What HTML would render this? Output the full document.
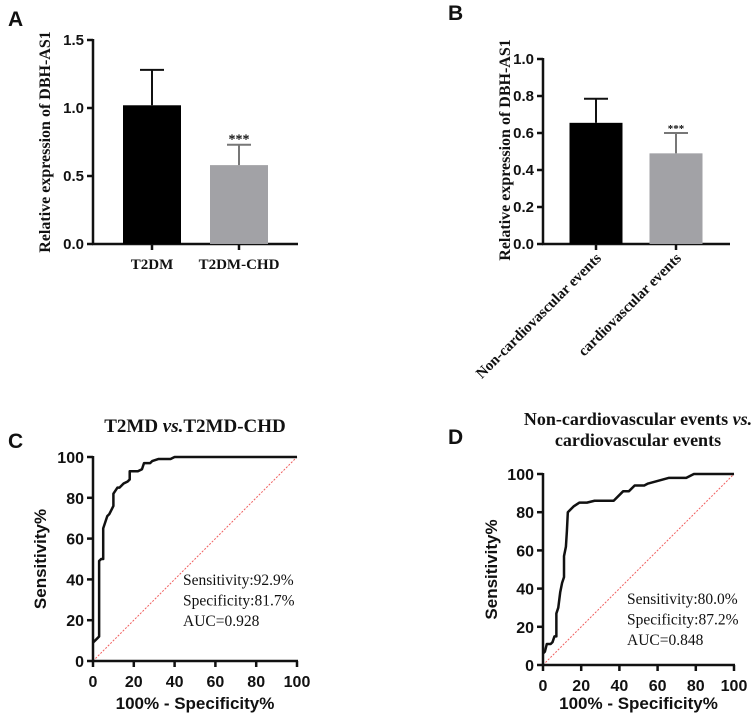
<!DOCTYPE html>
<html><head><meta charset="utf-8"><style>
html,body{margin:0;padding:0;background:#fff}
svg{display:block}
.tick{font-family:"Liberation Sans",sans-serif;font-weight:bold;font-size:15px;fill:#111}
.ser{font-family:"Liberation Serif",serif;font-weight:bold;fill:#111}
.lab{font-family:"Liberation Sans",sans-serif;font-weight:bold;fill:#111}
</style></head><body>
<svg id="s" width="755" height="716" viewBox="0 0 755 716" xmlns="http://www.w3.org/2000/svg">
<text x="8" y="26" class="lab" font-size="21">A</text>
<text x="448" y="20" class="lab" font-size="21">B</text>
<text x="8" y="448" class="lab" font-size="21">C</text>
<text x="448" y="444" class="lab" font-size="21">D</text>
<g id="g"></g>
</svg>
<script>
const aCats=["T2DM","T2DM-CHD"], aVals=[1.02,0.58], aErr=[1.28,0.73], aTicks=[0,0.5,1.0,1.5];
const bCats=["Non-cardiovascular events","cardiovascular events"], bVals=[0.655,0.49], bErr=[0.785,0.60], bTicks=[0,0.2,0.4,0.6,0.8,1.0];
const barColors=["#000000","#a2a2a6"];
const cX=[0,2,3,3,4,5,5,6,7,8,9,10,10,12,13,15,17,18,18,22,24,25,28,29,32,38,40,100];
const cY=[9,11,12,49,50,50,65,68,71,72,74,76,82,85,85,87,88,89,93,93,94,97,97,98,99,99,100,100];
const dX=[0,1,2,4,5,6,7,7,8,9,10,11,11,12,12.5,13,16,19,23,27,37,42,45,48,53,55,66,75,79,100];
const dY=[6,7,11,11,12,15,15,27,30,38,43,46,57,62,70,80,83,85,85,86,86,91,91,94,94,95,98,98,100,100];
const rocTicks=[0,20,40,60,80,100];
const NS="http://www.w3.org/2000/svg", G=document.getElementById('g');
function el(t,a,txt){const e=document.createElementNS(NS,t);for(const k in a)e.setAttribute(k,a[k]);if(txt!==undefined)e.textContent=txt;G.appendChild(e);return e;}
function line(x1,y1,x2,y2,w,c){return el('line',{x1,y1,x2,y2,stroke:c||'#111','stroke-width':w||2.5});}

function barChart(p,cats,vals,errs,ticks,rot){
  const ys=v=>p.y0-(v/p.max)*(p.y0-p.y1);
  let e=line(p.ax,p.y1-1,p.ax,p.y0+1);
  
  e=line(p.ax-1,p.y0,p.ax2,p.y0);
  
  ticks.forEach(t=>{line(p.ax-6,ys(t),p.ax,ys(t));
    e=el('text',{x:p.ax-9,y:ys(t)+5,'text-anchor':'end',class:'tick'},t.toFixed(1));
    });
  cats.forEach((c,i)=>{
    const cx=p.cx[i], w=p.bw;
    e=el('rect',{x:cx-w/2,y:ys(vals[i]),width:w,height:p.y0-ys(vals[i]),fill:barColors[i]});
    
    line(cx,ys(vals[i]),cx,ys(errs[i]),2,barColors[i]==='#000000'?'#111':'#777');
    line(cx-12,ys(errs[i]),cx+12,ys(errs[i]),2,barColors[i]==='#000000'?'#111':'#777');
    line(cx,p.y0,cx,p.y0+6);
    if(i===1){e=el('text',{x:cx,y:ys(errs[i])-1,'text-anchor':'middle',class:'ser','font-size':p.starSize},'***');
      }
    if(rot){e=el('text',{x:cx+6,y:p.y0+15,'text-anchor':'end',class:'ser','font-size':15,transform:`rotate(-45 ${cx+6} ${p.y0+15})`},c);}
    else{e=el('text',{x:cx,y:p.y0+25,'text-anchor':'middle',class:'ser','font-size':15},c);}
    
  });
  e=el('text',{x:p.tx,y:p.ty,'text-anchor':'middle',class:'ser','font-size':p.tfs,transform:`rotate(-90 ${p.tx} ${p.ty})`},'Relative expression of DBH-AS1');
  
}
barChart({id:'a',ax:93,ax2:298,y0:244,y1:40,max:1.5,cx:[152,239],bw:58,tx:50,ty:142,tfs:16,starSize:14},aCats,aVals,aErr,aTicks,false);
barChart({id:'b',ax:543,ax2:730,y0:244,y1:59,max:1.0,cx:[596,676],bw:53,tx:510,ty:150,tfs:16,starSize:11},bCats,bVals,bErr,bTicks,true);

function roc(p,xs,ysA,stats){
  const sx=v=>p.x0+v/100*(p.x1-p.x0), sy=v=>p.y0-v/100*(p.y0-p.y1);
  let e=el('line',{x1:sx(0),y1:sy(0),x2:sx(100),y2:sy(100),stroke:'#f06060','stroke-width':1,'stroke-dasharray':'2,1.5'});
  
  e=line(p.x0,p.y1-1,p.x0,p.y0+1);
  e=line(p.x0-1,p.y0,p.x1+1,p.y0);
  rocTicks.forEach(t=>{
    line(p.x0-6,sy(t),p.x0,sy(t));line(sx(t),p.y0,sx(t),p.y0+6);
    e=el('text',{x:p.x0-9,y:sy(t)+6,'text-anchor':'end',class:'lab','font-size':16},t);
    
    e=el('text',{x:sx(t),y:p.y0+26,'text-anchor':'middle',class:'lab','font-size':16},t);
    
  });
  e=el('polyline',{points:xs.map((x,i)=>sx(x)+','+sy(ysA[i])).join(' '),fill:'none',stroke:'#111','stroke-width':2.5,'stroke-linejoin':'round'});
  
  const cx=(p.x0+p.x1)/2;
  e=el('text',{x:cx,y:p.xl,'text-anchor':'middle',class:'lab','font-size':17},'100% - Specificity%');
  
  const ty=(p.y0+p.y1)/2;
  e=el('text',{x:p.tx,y:ty,'text-anchor':'middle',class:'lab','font-size':17,transform:`rotate(-90 ${p.tx} ${ty})`},'Sensitivity%');
  
  stats.forEach((s,i)=>{e=el('text',{x:p.sx,y:p.sy+i*20.5,class:'ser','font-size':15.5,style:'font-weight:normal'},s);
    });
}
roc({id:'c',x0:93,x1:297,y0:661,y1:457,tx:46,sx:183,sy:585,xl:709},cX,cY,["Sensitivity:92.9%","Specificity:81.7%","AUC=0.928"]);
roc({id:'d',x0:543,x1:734,y0:665,y1:474,tx:497,sx:627,sy:604,xl:709},dX,dY,["Sensitivity:80.0%","Specificity:87.2%","AUC=0.848"]);

let t=el('text',{x:195,y:432,'text-anchor':'middle',class:'ser','font-size':19});
t.innerHTML='T2MD <tspan font-style="italic">vs.</tspan>T2MD-CHD';


t=el('text',{x:638,y:425,'text-anchor':'middle',class:'ser','font-size':18});
t.innerHTML='Non-cardiovascular events <tspan font-style="italic">vs.</tspan>';


t=el('text',{x:638,y:446,'text-anchor':'middle',class:'ser','font-size':18},'cardiovascular events');


</script>
</body></html>
